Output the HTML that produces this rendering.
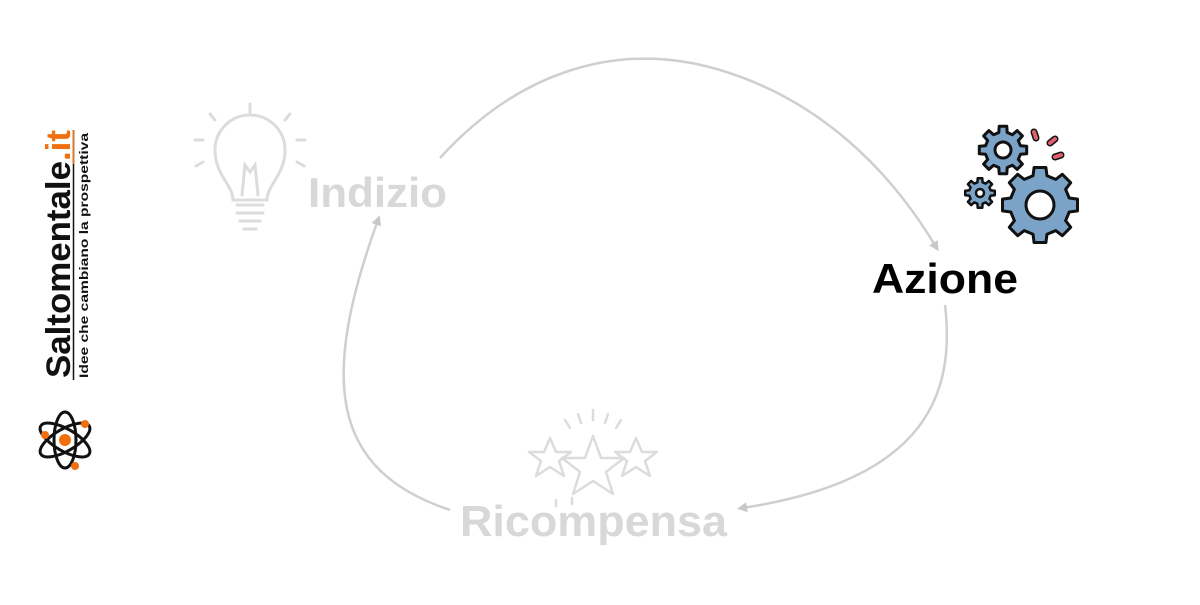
<!DOCTYPE html>
<html><head><meta charset="utf-8"><style>
body{margin:0;width:1200px;height:600px;background:#fff;overflow:hidden;font-family:"Liberation Sans",Arial,sans-serif}
</style></head><body>
<svg width="1200" height="600" viewBox="0 0 1200 600">
<defs>
<marker id="ah" viewBox="0 0 10 10" refX="5" refY="5" markerWidth="4" markerHeight="4" orient="auto"><path d="M0,0 L10,5 L0,10 z" fill="#c8c8c8"/></marker>
</defs>
<g fill="none" stroke="#cfcfcf" stroke-width="2.5">
<path d="M440,158 C520,70 620,40 720,70 C820,100 890,170 936,247" marker-end="url(#ah)"/>
<path d="M945,305 C955,390 930,480 742,508" marker-end="url(#ah)"/>
<path d="M450,510 C330,470 320,380 378,220" marker-end="url(#ah)"/>
</g>
<g>
<text transform="translate(70,378) rotate(-90)" font-size="34" font-weight="bold" fill="#111" textLength="248" lengthAdjust="spacingAndGlyphs">Saltomentale<tspan fill="#f07010">.it</tspan></text>
<line x1="73.5" y1="380" x2="73.5" y2="130" stroke="#111" stroke-width="1.5"/>
<line x1="73.5" y1="164" x2="73.5" y2="130" stroke="#f07010" stroke-width="1.5"/>
<text transform="translate(88,378) rotate(-90)" font-size="11.5" font-weight="bold" fill="#111" textLength="245" lengthAdjust="spacingAndGlyphs">Idee che cambiano la prospettiva</text>
</g>
<g transform="translate(65,440)" fill="none" stroke="#111" stroke-width="3">
<ellipse rx="28" ry="11" transform="rotate(30)"/>
<ellipse rx="28" ry="11" transform="rotate(-30)"/>
<ellipse rx="28" ry="11" transform="rotate(90)"/>
<circle r="6" fill="#f07010" stroke="none"/>
<circle cx="-20" cy="-5" r="4" fill="#f07010" stroke="none"/>
<circle cx="20" cy="-16" r="4" fill="#f07010" stroke="none"/>
<circle cx="10" cy="26" r="4" fill="#f07010" stroke="none"/>
</g>
<g fill="none" stroke="#dcdcdc" stroke-width="3" stroke-linecap="round">
<path d="M233,200 C233,185 215,175 215,150 A35,35 0 0 1 285,150 C285,175 267,185 267,200 Z"/>
<path d="M237,205 H263 M237,213 H263 M240,221 H260 M244,229 H256"/>
<path d="M242,195 L245,165 L250,172 L255,165 L258,195"/>
<path d="M250,112 V104 M215,120 L210,114 M285,120 L290,114 M203,140 H195 M297,140 H305 M203,162 L196,166 M297,162 L304,166"/>
</g>
<text x="308" y="207" font-size="42" font-weight="bold" fill="#d8d8d8" textLength="139" lengthAdjust="spacingAndGlyphs">Indizio</text>
<g>
<path id="g1" fill="#7ba3c8" stroke="#111" stroke-width="3" stroke-linejoin="round"/>
<circle cx="1040" cy="205" r="14" fill="#fff" stroke="#111" stroke-width="3"/>
<path id="g2" fill="#7ba3c8" stroke="#111" stroke-width="3" stroke-linejoin="round"/>
<circle cx="1003" cy="150" r="8" fill="#fff" stroke="#111" stroke-width="3"/>
<path id="g3" fill="#7ba3c8" stroke="#111" stroke-width="2.5" stroke-linejoin="round"/>
<circle cx="980" cy="193" r="4" fill="#fff" stroke="#111" stroke-width="2.5"/>
<g stroke="#111" stroke-width="7" stroke-linecap="round"><path d="M1034,132 L1036,138 M1050,143 L1055,139 M1055,157 L1061,155"/></g>
<g stroke="#e06070" stroke-width="4" stroke-linecap="round"><path d="M1034,132 L1036,138 M1050,143 L1055,139 M1055,157 L1061,155"/></g>
</g>
<text x="872" y="293" font-size="42" font-weight="bold" fill="#000" textLength="146" lengthAdjust="spacingAndGlyphs">Azione</text>
<g fill="none" stroke="#dcdcdc" stroke-width="2.5" stroke-linejoin="round">
<path d="M593,436 L601,458 L624,458 L606,472 L613,494 L593,481 L573,494 L580,472 L562,458 L585,458 Z"/>
<path d="M550,438 L556,452 L571,452 L559,461 L564,476 L550,467 L536,476 L541,461 L529,452 L544,452 Z"/>
<path d="M636,438 L642,452 L657,452 L645,461 L650,476 L636,467 L622,476 L627,461 L615,452 L630,452 Z"/>
<path d="M593,410 V420 M578,414 L581,423 M608,414 L605,423 M565,420 L570,428 M621,420 L616,428 M556,500 L556,506 M572,498 V504" stroke-linecap="round"/>
</g>
<text x="460" y="536" font-size="44" font-weight="bold" fill="#d8d8d8" textLength="267" lengthAdjust="spacingAndGlyphs">Ricompensa</text>
</svg>
<script>
function gear(cx,cy,rIn,rOut,n){
  var d='',step=Math.PI*2/n;
  for(var i=0;i<n;i++){
    var a=i*step;
    var pts=[[rIn,a-step*0.3],[rOut,a-step*0.2],[rOut,a+step*0.2],[rIn,a+step*0.3]];
    pts.forEach(function(p,j){
      var x=cx+p[0]*Math.cos(p[1]),y=cy+p[0]*Math.sin(p[1]);
      d+=(i==0&&j==0?'M':'L')+x.toFixed(1)+','+y.toFixed(1);
    });
  }
  return d+'Z';
}
document.getElementById('g1').setAttribute('d',gear(1040,205,30,38,8));
document.getElementById('g2').setAttribute('d',gear(1003,150,18,24,8));
document.getElementById('g3').setAttribute('d',gear(980,193,11,15,8));
</script>
</body></html>
